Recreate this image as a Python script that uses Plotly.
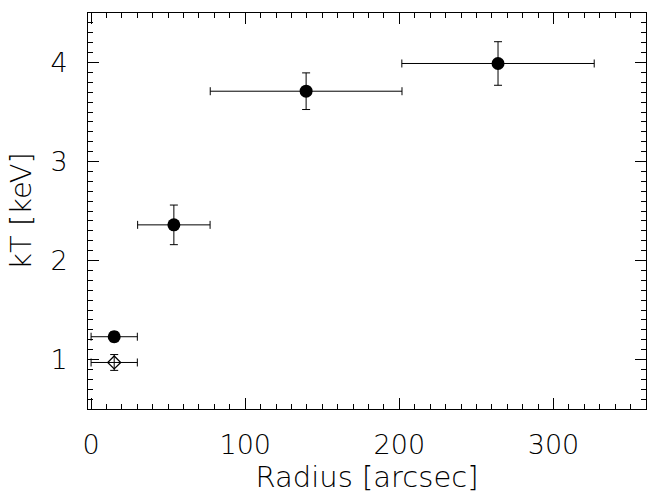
import plotly.graph_objects as go

# Temperature profile: annular bins (radius, half-width) and kT with errors
radius_filled = [15, 53.7, 139.5, 264]
radius_halfwidth_filled = [15, 23.5, 62.2, 62.4]
kt_filled = [1.23, 2.36, 3.71, 3.99]
kt_err_filled = [0.05, 0.20, 0.185, 0.22]

radius_open = [15]
radius_halfwidth_open = [15]
kt_open = [0.97]
kt_err_open = [0.08]

x_ticks = [0, 100, 200, 300]
y_ticks = [1, 2, 3, 4]

font_family = "DejaVu Sans, sans-serif"
tick_font = dict(family=font_family, size=27, color="black", weight=200)
title_font = dict(family=font_family, size=29, color="black", weight=200)

fig = go.Figure()

fig.add_trace(go.Scatter(
    x=radius_filled, y=kt_filled, mode="markers",
    marker=dict(symbol="circle", size=13, color="black"),
    error_x=dict(type="data", array=radius_halfwidth_filled, color="black",
                 thickness=1, width=4),
    error_y=dict(type="data", array=kt_err_filled, color="black",
                 thickness=1, width=4),
    showlegend=False,
))

fig.add_trace(go.Scatter(
    x=radius_open, y=kt_open, mode="markers",
    marker=dict(symbol="diamond-open", size=10, color="black",
                line=dict(width=1.2, color="black")),
    error_x=dict(type="data", array=radius_halfwidth_open, color="black",
                 thickness=1, width=4),
    error_y=dict(type="data", array=kt_err_open, color="black",
                 thickness=1, width=4),
    showlegend=False,
))

axis_common = dict(
    showline=True, linecolor="black", linewidth=1, mirror="allticks",
    ticks="inside", tickcolor="black", tickwidth=1, ticklen=11,
    showgrid=False, zeroline=False,
    tickfont=tick_font,
    title_font=title_font,
)

fig.update_xaxes(
    range=[-2, 360], tickvals=x_ticks, ticktext=[str(v) for v in x_ticks],
    minor=dict(ticks="inside", dtick=10, tick0=0, ticklen=5,
               tickcolor="black", showgrid=False),
    title_text="Radius [arcsec]", title_standoff=6,
    ticklabelstandoff=12,
    **axis_common,
)
fig.update_yaxes(
    range=[0.5, 4.5], tickvals=y_ticks, ticktext=[str(v) for v in y_ticks],
    minor=dict(ticks="inside", dtick=0.1, tick0=0, ticklen=5,
               tickcolor="black", showgrid=False),
    title_text="kT [keV]", title_standoff=10,
    ticklabelstandoff=14,
    **axis_common,
)

fig.update_layout(
    width=647, height=496,
    margin=dict(l=88, r=1, t=13, b=87),
    plot_bgcolor="white", paper_bgcolor="white",
    font=dict(family=font_family, color="black"),
)

fig.write_html("out.html")
